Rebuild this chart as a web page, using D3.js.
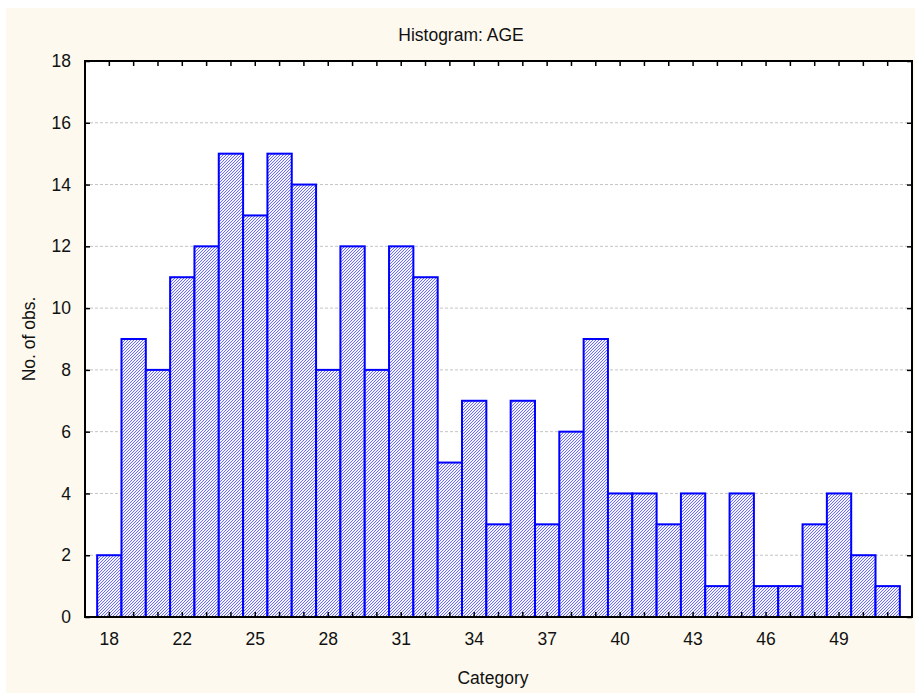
<!DOCTYPE html>
<html>
<head>
<meta charset="utf-8">
<script src="https://cdn.jsdelivr.net/npm/d3@7"></script>
<style>
  html, body { margin: 0; padding: 0; background: #ffffff; }
  svg { display: block; }
  text { font-family: "Liberation Sans", Arial, Helvetica, sans-serif; fill: #111; }
</style>
</head>
<body>
<svg id="chart" width="915" height="693"></svg>
<script>
// ---- data ----
const title = "Histogram: AGE";
const xTitle = "Category";
const yTitle = "No. of obs.";
const counts = [2, 9, 8, 11, 12, 15, 13, 15, 14, 8, 12, 8, 12, 11, 5, 7, 3, 7, 3, 6, 9, 4, 4, 3, 4, 1, 4, 1, 1, 3, 4, 2, 1];
const tickLabels = ["18", "", "", "22", "", "", "25", "", "", "28", "", "", "31", "", "", "34", "", "", "37", "", "", "40", "", "", "43", "", "", "46", "", "", "49", "", ""];
const yTicks = [0, 2, 4, 6, 8, 10, 12, 14, 16, 18];

// ---- layout ----
const W = 915, H = 693;
const plot = { left: 85, right: 912, top: 61, bottom: 617 };
const FS = "17.5px";
const svg = d3.select("#chart");

svg.append("rect").attr("x", 6).attr("y", 8).attr("width", W - 6).attr("height", H - 8).attr("fill", "#fdf9ef");
svg.append("rect").attr("x", plot.left).attr("y", plot.top)
  .attr("width", plot.right - plot.left).attr("height", plot.bottom - plot.top).attr("fill", "#ffffff");

const defs = svg.append("defs");
const pat = defs.append("pattern").attr("id", "hatch").attr("patternUnits", "userSpaceOnUse")
  .attr("width", 3).attr("height", 3);
pat.append("rect").attr("width", 3).attr("height", 3).attr("fill", "#f4f4ff");
[[2, 0], [1, 1], [0, 2]].forEach(([px, py]) =>
  pat.append("rect").attr("x", px).attr("y", py).attr("width", 1).attr("height", 1).attr("fill", "#6a6aff"));

const x = d3.scaleBand().domain(tickLabels.map((d, i) => i))
  .range([plot.left, plot.right]).paddingInner(0).paddingOuter(0.5);
const y = d3.scaleLinear().domain([0, 18]).range([plot.bottom, plot.top]);

// grid
svg.append("g").selectAll("line").data(yTicks.filter(t => t > 0 && t < 18)).join("line")
  .attr("x1", plot.left).attr("x2", plot.right)
  .attr("y1", d => y(d)).attr("y2", d => y(d))
  .attr("stroke", "#c4c4c4").attr("stroke-width", 1).attr("stroke-dasharray", "3,2");

// bars
svg.append("g").selectAll("rect").data(counts).join("rect")
  .attr("x", (d, i) => x(i)).attr("width", x.bandwidth())
  .attr("y", d => y(d)).attr("height", d => y(0) - y(d))
  .attr("fill", "url(#hatch)").attr("stroke", "#0000ff").attr("stroke-width", 2);

// frame
svg.append("rect").attr("x", plot.left).attr("y", plot.top)
  .attr("width", plot.right - plot.left).attr("height", plot.bottom - plot.top)
  .attr("fill", "none").attr("stroke", "#000").attr("stroke-width", 2);

function styleAxis(g) {
  g.select(".domain").remove();
  g.selectAll(".tick line").attr("stroke", "#000").attr("stroke-width", 1.5);
  g.selectAll(".tick text").style("font-size", FS).attr("fill", "#111")
    .style("font-family", '"Liberation Sans", Arial, sans-serif');
}

svg.append("g").attr("transform", `translate(0,${plot.bottom})`)
  .call(d3.axisBottom(x).tickSize(-5).tickPadding(16).tickFormat(i => tickLabels[i]))
  .call(styleAxis);
svg.append("g").attr("transform", `translate(0,${plot.top})`)
  .call(d3.axisTop(x).tickSize(-5).tickFormat(""))
  .call(styleAxis);
svg.append("g").attr("transform", `translate(${plot.left},0)`)
  .call(d3.axisLeft(y).tickValues(yTicks).tickSize(-5).tickPadding(14).tickFormat(d3.format("d")))
  .call(styleAxis);
svg.append("g").attr("transform", `translate(${plot.right},0)`)
  .call(d3.axisRight(y).tickValues(yTicks).tickSize(-5).tickFormat(""))
  .call(styleAxis);

// titles
svg.append("text").attr("x", 461).attr("y", 41).attr("text-anchor", "middle")
  .style("font-size", FS).text(title);
svg.append("text").attr("x", 493).attr("y", 684).attr("text-anchor", "middle")
  .style("font-size", FS).text(xTitle);
svg.append("text").attr("transform", `translate(35,${(plot.top + plot.bottom) / 2}) rotate(-90)`)
  .attr("text-anchor", "middle").style("font-size", FS).text(yTitle);
</script>
</body>
</html>
